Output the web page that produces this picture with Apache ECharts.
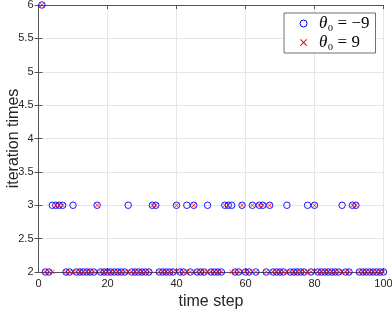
<!DOCTYPE html>
<html>
<head>
<meta charset="utf-8">
<script src="https://cdn.jsdelivr.net/npm/echarts@6/dist/echarts.min.js"></script>
<style>html,body{margin:0;padding:0;background:#fff}#c{width:392px;height:314px}</style>
</head>
<body>
<div id="c"></div>
<script>
// time steps 1..100
var timeSteps = [];
for (var k = 1; k <= 100; k++) timeSteps.push(k);
// theta0 = -9 (blue circles)
var seriesNeg9 = [
  6,2,2,3,3,3,3,2,2,3,
  2,2,2,2,2,2,3,2,2,2,
  2,2,2,2,2,3,2,2,2,2,
  2,2,3,3,2,2,2,2,2,3,
  2,2,3,2,3,2,2,2,3,2,
  2,2,2,3,3,3,2,2,3,2,
  2,3,2,3,3,2,3,2,2,2,
  2,3,2,2,2,2,2,3,2,3,
  2,2,2,2,2,2,2,3,2,2,
  3,3,2,2,2,2,2,2,2,2
];
// theta0 = 9 (red crosses)
var seriesPos9 = [
  6,2,2,2,3,3,3,2,2,2,
  2,2,2,2,2,2,3,2,2,2,
  2,2,2,2,2,2,2,2,2,2,
  2,2,3,3,2,2,2,2,2,3,
  2,2,2,2,3,2,2,2,2,2,
  2,2,2,3,3,2,2,2,3,2,
  2,3,2,3,3,2,3,2,2,2,
  2,2,2,2,2,2,2,2,2,3,
  2,2,2,2,2,2,2,2,2,2,
  3,3,2,2,2,2,2,2,2,2
];
var xTicks = [0, 20, 40, 60, 80, 100];
var yTicks = [2, 2.5, 3, 3.5, 4, 4.5, 5, 5.5, 6];
var legendNames = ['neg9', 'pos9'];
var legendLabels = {neg9: '−9', pos9: '9'};

function pairs(vals) {
  return vals.map(function (v, i) { return [timeSteps[i], v]; });
}

var axisCol = '#555';
var labelCol = '#262626';
var crossPath = 'path://M0,0L10,10M10,0L0,10';
var crossFilled = 'path://M0,1L1,0L5,4L9,0L10,1L6,5L10,9L9,10L5,6L1,10L0,9L4,5Z';

var chart = echarts.init(document.getElementById('c'), null, {renderer: 'canvas'});
chart.setOption({
  animation: false,
  backgroundColor: '#fff',
  color: ['#0000ff', '#ff0000'],
  grid: {left: 38.5, right: 8.5, top: 5, bottom: 42, containLabel: false, outerBoundsMode: 'none'},
  xAxis: [{
    type: 'value', min: xTicks[0], max: xTicks[xTicks.length - 1], interval: 20,
    name: 'time step', nameLocation: 'middle', nameGap: 22, nameMoveOverlap: false,
    nameTextStyle: {fontFamily: 'Liberation Sans', fontSize: 16, color: labelCol},
    axisLine: {show: true, lineStyle: {color: axisCol, width: 1}},
    axisTick: {show: true, inside: true, length: 4, lineStyle: {color: axisCol}},
    axisLabel: {fontFamily: 'Liberation Sans', fontSize: 11, color: labelCol, margin: 6},
    splitLine: {show: true, lineStyle: {color: '#e6e6e6', width: 1}}
  }, {
    type: 'value', position: 'top', min: 0, max: 100, interval: 20,
    axisLine: {show: true, lineStyle: {color: axisCol, width: 1}},
    axisTick: {show: true, inside: true, length: 4, lineStyle: {color: axisCol}},
    axisLabel: {show: false}, splitLine: {show: false}
  }],
  yAxis: [{
    type: 'value', min: yTicks[0], max: yTicks[yTicks.length - 1], interval: 0.5,
    name: 'iteration times', nameLocation: 'middle', nameGap: 17, nameMoveOverlap: false,
    nameTextStyle: {fontFamily: 'Liberation Sans', fontSize: 16, color: labelCol},
    axisLine: {show: true, lineStyle: {color: axisCol, width: 1}},
    axisTick: {show: true, inside: true, length: 4, lineStyle: {color: axisCol}},
    axisLabel: {fontFamily: 'Liberation Sans', fontSize: 11, color: labelCol, margin: 5},
    splitLine: {show: true, lineStyle: {color: '#e6e6e6', width: 1}}
  }, {
    type: 'value', position: 'right', min: 2, max: 6, interval: 0.5,
    axisLine: {show: true, lineStyle: {color: axisCol, width: 1}},
    axisTick: {show: true, inside: true, length: 4, lineStyle: {color: axisCol}},
    axisLabel: {show: false}, splitLine: {show: false}
  }],
  legend: {
    orient: 'vertical', right: 16.5, top: 13,
    backgroundColor: '#fff', borderColor: '#4d4d4d', borderWidth: 0.8, borderRadius: 0,
    padding: [2, 6, 2, 15.5], itemGap: 2, itemWidth: 7, itemHeight: 7,
    data: [
      {name: 'neg9', icon: 'circle', itemStyle: {color: 'transparent', borderColor: '#0000ff', borderWidth: 1}},
      {name: 'pos9', icon: crossFilled, itemStyle: {color: '#ff0000', borderColor: '#ff0000', borderWidth: 0, opacity: 1}}
    ],
    formatter: function (name) {
      return '{i|θ}{s|₀}{n| = ' + legendLabels[name] + '}';
    },
    textStyle: {
      padding: [0, 0, 0, 7],
      rich: {
        i: {fontFamily: 'Liberation Serif', fontStyle: 'italic', fontSize: 17, color: '#000'},
        s: {fontFamily: 'Liberation Serif', fontSize: 17, color: '#000'},
        n: {fontFamily: 'Liberation Serif', fontSize: 17, color: '#000'}
      }
    }
  },
  series: [{
    name: legendNames[0], type: 'scatter', data: pairs(seriesNeg9), clip: false,
    symbol: 'circle', symbolSize: 6.5,
    itemStyle: {color: 'transparent', borderColor: '#0000ff', borderWidth: 0.9, opacity: 1},
    z: 3
  }, {
    name: legendNames[1], type: 'scatter', data: pairs(seriesPos9), clip: false,
    symbol: crossPath, symbolSize: 4.5,
    itemStyle: {color: '#ff0000', borderColor: '#ff0000', borderWidth: 0.9},
    z: 4
  }]
});
</script>
</body>
</html>
